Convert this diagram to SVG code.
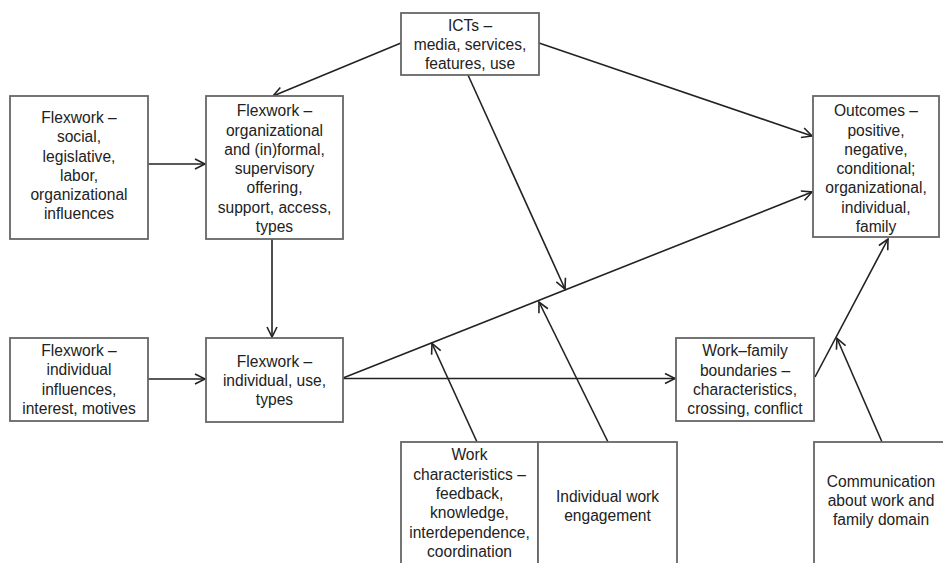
<svg xmlns="http://www.w3.org/2000/svg" width="943" height="563" viewBox="0 0 943 563">
<style>
.box{fill:#fff;stroke:#666;stroke-width:1.8}
.t{font-family:"Liberation Sans",Arial,sans-serif;font-size:15.6px;fill:#222;text-anchor:middle}
.c{fill:none;stroke:#222;stroke-width:1.6}
</style>
<defs>
<marker id="ah" markerUnits="userSpaceOnUse" markerWidth="14" markerHeight="14" viewBox="-12 -7 14 14" refX="0" refY="0" orient="auto">
<path d="M-10,-5 L0,0 L-10,5" fill="none" stroke="#222" stroke-width="1.6"/>
</marker>
</defs>
<rect width="943" height="563" fill="#fff"/>
<g id="connectors">
<line class="c" x1="401" y1="43" x2="273" y2="96" marker-end="url(#ah)"/>
<line class="c" x1="148" y1="164" x2="205" y2="164" marker-end="url(#ah)"/>
<line class="c" x1="272" y1="239" x2="272" y2="337" marker-end="url(#ah)"/>
<line class="c" x1="148" y1="379" x2="205" y2="379" marker-end="url(#ah)"/>
<line class="c" x1="343" y1="378.5" x2="675" y2="378.5" marker-end="url(#ah)"/>
<line class="c" x1="343" y1="378" x2="812" y2="192" marker-end="url(#ah)"/>
<line class="c" x1="539" y1="43" x2="812" y2="136" marker-end="url(#ah)"/>
<line class="c" x1="468" y1="75" x2="565" y2="289" marker-end="url(#ah)"/>
<line class="c" x1="477" y1="442" x2="432" y2="343.5" marker-end="url(#ah)"/>
<line class="c" x1="608" y1="442" x2="539" y2="302" marker-end="url(#ah)"/>
<line class="c" x1="815" y1="377" x2="888" y2="239" marker-end="url(#ah)"/>
<line class="c" x1="882" y1="442" x2="837" y2="338.5" marker-end="url(#ah)"/>
</g>
<g id="ict">
<rect class="box" x="401" y="13" width="138" height="62"/>
<text class="t" x="470" y="30.5">ICTs –</text>
<text class="t" x="470" y="49.5">media, services,</text>
<text class="t" x="470" y="69">features, use</text>
</g>
<g id="flex-social">
<rect class="box" x="10" y="96" width="138" height="143"/>
<text class="t" x="79" y="123">Flexwork –</text>
<text class="t" x="79" y="142">social,</text>
<text class="t" x="79" y="161.5">legislative,</text>
<text class="t" x="79" y="180.5">labor,</text>
<text class="t" x="79" y="199.5">organizational</text>
<text class="t" x="79" y="219">influences</text>
</g>
<g id="flex-org">
<rect class="box" x="206" y="96" width="137" height="143"/>
<text class="t" x="274.5" y="116">Flexwork –</text>
<text class="t" x="274.5" y="135.5">organizational</text>
<text class="t" x="274.5" y="155">and (in)formal,</text>
<text class="t" x="274.5" y="174">supervisory</text>
<text class="t" x="274.5" y="193">offering,</text>
<text class="t" x="274.5" y="213">support, access,</text>
<text class="t" x="274.5" y="232">types</text>
</g>
<g id="outcomes">
<rect class="box" x="813" y="96" width="126" height="141"/>
<text class="t" x="876" y="116">Outcomes –</text>
<text class="t" x="876" y="135.5">positive,</text>
<text class="t" x="876" y="155">negative,</text>
<text class="t" x="876" y="174">conditional;</text>
<text class="t" x="876" y="193">organizational,</text>
<text class="t" x="876" y="213">individual,</text>
<text class="t" x="876" y="232">family</text>
</g>
<g id="flex-ind-infl">
<rect class="box" x="10" y="338" width="138" height="83"/>
<text class="t" x="79" y="355.5">Flexwork –</text>
<text class="t" x="79" y="375">individual</text>
<text class="t" x="79" y="394.5">influences,</text>
<text class="t" x="79" y="414">interest, motives</text>
</g>
<g id="flex-ind">
<rect class="box" x="206" y="338" width="137" height="84"/>
<text class="t" x="274.5" y="366.5">Flexwork –</text>
<text class="t" x="274.5" y="386">individual, use,</text>
<text class="t" x="274.5" y="405">types</text>
</g>
<g id="work-family">
<rect class="box" x="676" y="338" width="138" height="83"/>
<text class="t" x="745" y="356">Work–family</text>
<text class="t" x="745" y="375.5">boundaries –</text>
<text class="t" x="745" y="395">characteristics,</text>
<text class="t" x="745" y="413.5">crossing, conflict</text>
</g>
<g id="work-char">
<rect class="box" x="401" y="442" width="137" height="130"/>
<text class="t" x="469.5" y="460">Work</text>
<text class="t" x="469.5" y="479.5">characteristics –</text>
<text class="t" x="469.5" y="499">feedback,</text>
<text class="t" x="469.5" y="518">knowledge,</text>
<text class="t" x="469.5" y="537.5">interdependence,</text>
<text class="t" x="469.5" y="556.5">coordination</text>
</g>
<g id="engagement">
<rect class="box" x="538" y="442" width="139" height="130"/>
<text class="t" x="607.5" y="501.5">Individual work</text>
<text class="t" x="607.5" y="520.5">engagement</text>
</g>
<g id="communication">
<rect class="box" x="814" y="442" width="140" height="130"/>
<text class="t" x="881" y="486.5">Communication</text>
<text class="t" x="881" y="505.5">about work and</text>
<text class="t" x="881" y="525">family domain</text>
</g>
</svg>
